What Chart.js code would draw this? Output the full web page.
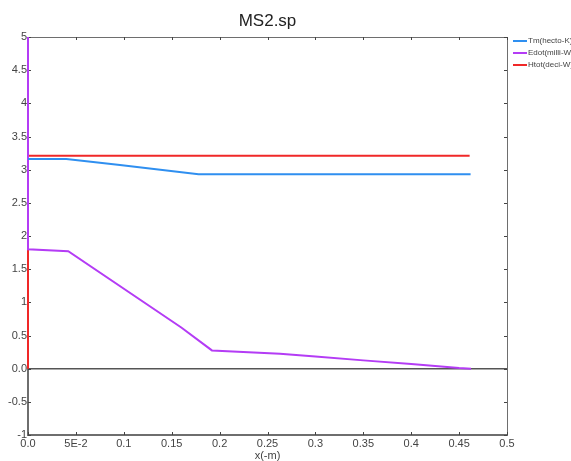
<!DOCTYPE html>
<html>
<head>
<meta charset="utf-8">
<script src="https://cdn.jsdelivr.net/npm/chart.js@4"></script>
<style>
  html, body { margin: 0; padding: 0; background: #fff; }
  #chart { display: block; }
</style>
</head>
<body>
<canvas id="chart" width="571" height="461"></canvas>
<script>
const chartTitle = 'MS2.sp';
const xAxisTitle = 'x(-m)';
const xTickLabels = ['0.0', '5E-2', '0.1', '0.15', '0.2', '0.25', '0.3', '0.35', '0.4', '0.45', '0.5'];
const yTickLabels = ['-1', '-0.5', '0.0', '0.5', '1', '1.5', '2', '2.5', '3', '3.5', '4', '4.5', '5'];

const tmX = [0, 0.04, 0.096, 0.178, 0.462];
const tmY = [3.16, 3.16, 3.07, 2.93, 2.93];

const edotX = [0, 0, 0.042, 0.16, 0.192, 0.263, 0.3, 0.35, 0.4, 0.45, 0.4625];
const edotY = [6, 1.80, 1.77, 0.62, 0.275, 0.226, 0.185, 0.125, 0.07, 0.01, 0.0];

const htotX = [0, 0, 0.461];
const htotY = [0, 3.21, 3.21];

const seriesNames = ['Tm(hecto-K)', 'Edot(milli-W)', 'Htot(deci-W)'];
const seriesColors = ['#2f8ff0', '#b43cf5', '#f02828'];

function toPoints(xs, ys) {
    return xs.map((x, i) => ({ x: x, y: ys[i] }));
}

const frame = {
    id: 'frame',
    beforeDatasetsDraw(chart) {
        const { ctx, chartArea, scales } = chart;
        const { left, right, top, bottom } = chartArea;
        ctx.save();

        // box
        ctx.strokeStyle = '#6e6e6e';
        ctx.lineWidth = 1;
        ctx.beginPath();
        ctx.moveTo(left, top + 0.5);
        ctx.lineTo(right + 0.5, top + 0.5);
        ctx.lineTo(right + 0.5, bottom);
        ctx.stroke();
        ctx.lineWidth = 2;
        ctx.beginPath();
        ctx.moveTo(left, top);
        ctx.lineTo(left, bottom);
        ctx.lineTo(right + 1, bottom);
        ctx.stroke();

        // zero line
        const y0 = scales.y.getPixelForValue(0);
        ctx.strokeStyle = '#555';
        ctx.lineWidth = 1.5;
        ctx.beginPath();
        ctx.moveTo(left, y0);
        ctx.lineTo(right, y0);
        ctx.stroke();

        // inward tick marks
        ctx.strokeStyle = '#444';
        ctx.lineWidth = 1;
        scales.x.ticks.forEach(t => {
            const px = Math.round(scales.x.getPixelForValue(t.value)) + 0.5;
            ctx.beginPath();
            ctx.moveTo(px, bottom); ctx.lineTo(px, bottom - 3);
            ctx.moveTo(px, top); ctx.lineTo(px, top + 3);
            ctx.stroke();
        });
        scales.y.ticks.forEach(t => {
            const py = Math.round(scales.y.getPixelForValue(t.value)) + 0.5;
            ctx.beginPath();
            ctx.moveTo(left, py); ctx.lineTo(left + 3, py);
            ctx.moveTo(right, py); ctx.lineTo(right - 3, py);
            ctx.stroke();
        });
        ctx.restore();
    },
    afterDraw(chart) {
        const { ctx, chartArea } = chart;
        const { left, right } = chartArea;
        ctx.save();

        // title
        ctx.fillStyle = '#222';
        ctx.textAlign = 'center';
        ctx.textBaseline = 'middle';
        ctx.font = '17px "Liberation Sans", Arial, sans-serif';
        ctx.fillText(chartTitle, (left + right) / 2, 21);

        // x axis title
        ctx.fillStyle = '#444';
        ctx.font = '11px "Liberation Sans", Arial, sans-serif';
        ctx.fillText(xAxisTitle, (left + right) / 2, 456);

        // legend
        ctx.font = '8px "Liberation Sans", Arial, sans-serif';
        ctx.textAlign = 'left';
        seriesNames.forEach((name, i) => {
            const ly = 41 + i * 12;
            ctx.strokeStyle = seriesColors[i];
            ctx.lineWidth = 2;
            ctx.beginPath();
            ctx.moveTo(513, ly);
            ctx.lineTo(527, ly);
            ctx.stroke();
            ctx.fillStyle = '#444';
            ctx.fillText(name, 528, ly);
        });
        ctx.restore();
    }
};

new Chart(document.getElementById('chart').getContext('2d'), {
    type: 'scatter',
    data: {
        datasets: [
            { label: seriesNames[0], data: toPoints(tmX, tmY), borderColor: seriesColors[0] },
            { label: seriesNames[1], data: toPoints(edotX, edotY), borderColor: seriesColors[1] },
            { label: seriesNames[2], data: toPoints(htotX, htotY), borderColor: seriesColors[2] }
        ].map(ds => ({
            ...ds,
            showLine: true,
            pointRadius: 0,
            borderWidth: 2,
            tension: 0,
            fill: false,
            clip: { left: 3, top: 0, right: 0, bottom: 0 }
        }))
    },
    options: {
        responsive: false,
        animation: false,
        events: [],
        layout: { padding: { left: 0, right: 64, top: 37, bottom: 0 } },
        plugins: {
            legend: { display: false },
            title: { display: false },
            tooltip: { enabled: false }
        },
        scales: {
            x: {
                type: 'linear',
                min: 0,
                max: 0.5,
                border: { display: false },
                grid: { display: false, drawTicks: false },
                afterFit(scale) { scale.height = 26; },
                ticks: {
                    stepSize: 0.05,
                    padding: 2,
                    maxRotation: 0,
                    autoSkip: false,
                    color: '#444',
                    font: { family: '"Liberation Sans", Arial, sans-serif', size: 11 },
                    callback: (v, i) => xTickLabels[i]
                }
            },
            y: {
                type: 'linear',
                min: -1,
                max: 5,
                border: { display: false },
                grid: { display: false, drawTicks: false },
                afterFit(scale) { scale.width = 28; },
                ticks: {
                    stepSize: 0.5,
                    padding: 1,
                    autoSkip: false,
                    color: '#444',
                    font: { family: '"Liberation Sans", Arial, sans-serif', size: 11 },
                    callback: (v, i) => yTickLabels[i]
                }
            }
        }
    },
    plugins: [frame]
});
</script>
</body>
</html>
